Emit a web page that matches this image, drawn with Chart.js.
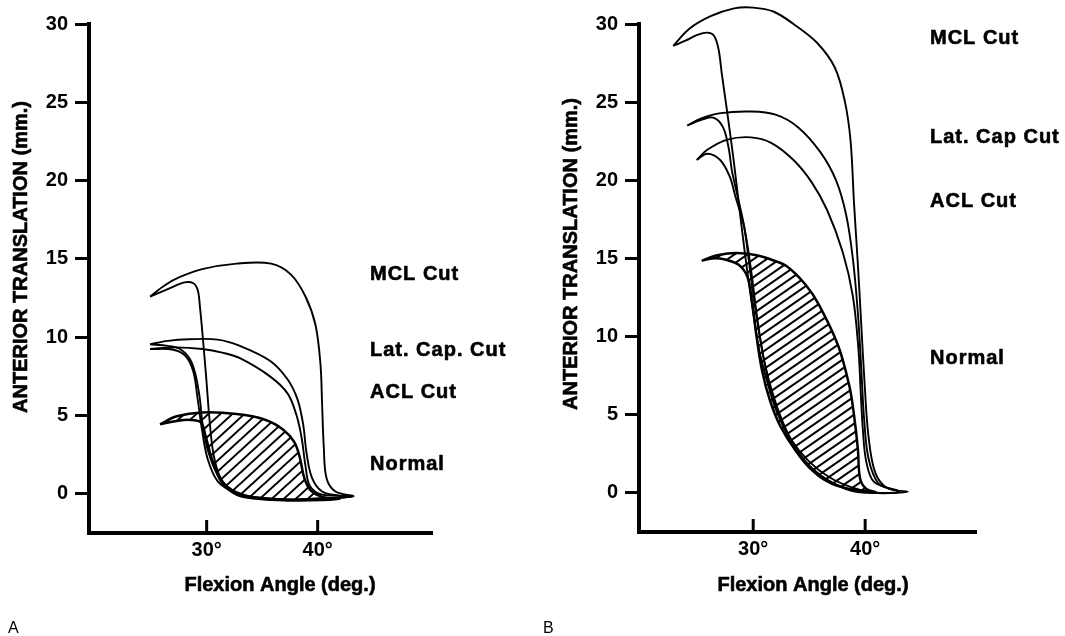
<!DOCTYPE html>
<html><head><meta charset="utf-8">
<script src="https://cdn.jsdelivr.net/npm/chart.js@4.4.1/dist/chart.umd.min.js"></script>
<style>
html,body{margin:0;padding:0;background:#fff;}
#wrap{position:relative;width:1065px;height:636px;overflow:hidden;background:#fff;}
canvas{position:absolute;top:0;}
</style></head><body>
<div id="wrap">
<canvas id="cA" width="530" height="636" style="left:0px"></canvas>
<canvas id="cB" width="535" height="636" style="left:530px"></canvas>
</div>
<script>
// ---- tick labels / categories ----
const yTickValues = [0, 5, 10, 15, 20, 25, 30];
const xTickValues = [30, 40];
const seriesNamesA = ['MCL Cut', 'Lat. Cap. Cut', 'ACL Cut', 'Normal'];
const seriesNamesB = ['MCL Cut', 'Lat. Cap Cut', 'ACL Cut', 'Normal'];
const xTitle = 'Flexion Angle (deg.)';
const yTitle = 'ANTERIOR TRANSLATION (mm.)';

// ---- Panel A loops (flexion angle deg, anterior translation mm) ----
const aMclX = [24.9, 26.3, 27.6, 29.6, 32.7, 35.8, 37.6, 38.9, 39.8, 40.25, 40.4, 40.55, 40.8, 41.6, 43.2, 40.4, 37.3, 34.2, 32.4, 31.2, 30.6, 30.25, 29.95, 29.65, 29.4, 29.2, 28.8, 28.0, 26.6, 24.9];
const aMclY = [12.6, 13.35, 13.85, 14.35, 14.7, 14.7, 14.0, 12.6, 10.8, 8.3, 5.7, 3.0, 1.0, 0.15, -0.15, -0.3, -0.4, -0.25, 0.1, 1.1, 2.6, 4.8, 7.5, 10.0, 11.9, 13.0, 13.45, 13.5, 13.1, 12.6];
const aLatX = [24.9, 26.5, 28.4, 31.0, 33.0, 35.7, 37.3, 38.2, 38.7, 39.0, 39.5, 40.4, 41.9, 43.2, 40.4, 37.3, 34.2, 32.3, 31.0, 30.1, 29.6, 29.4, 29.0, 28.5, 27.6, 26.5, 24.9];
const aLatY = [9.55, 9.77, 9.87, 9.85, 9.45, 8.5, 7.3, 6.0, 4.4, 2.6, 1.0, 0.15, -0.1, -0.15, -0.3, -0.35, -0.2, 0.25, 1.2, 2.8, 4.6, 6.0, 7.6, 8.6, 9.25, 9.45, 9.55];
const aAclX = [24.9, 27.2, 29.6, 31.5, 33.0, 35.7, 37.3, 38.1, 38.55, 38.9, 39.3, 40.4, 43.2, 40.4, 37.3, 34.2, 32.6, 31.0, 30.1, 29.6, 29.2, 28.8, 28.1, 27.0, 24.9];
const aAclY = [9.25, 9.35, 9.25, 9.0, 8.66, 7.5, 6.4, 5.0, 3.6, 1.8, 0.5, -0.05, -0.15, -0.3, -0.35, -0.2, 0.05, 0.8, 2.2, 4.0, 6.0, 7.8, 8.8, 9.2, 9.25];
const aNorX = [25.8, 27.3, 29.6, 32.7, 35.2, 36.9, 37.9, 38.4, 38.8, 39.4, 40.7, 42.0, 40.4, 37.3, 34.5, 32.7, 31.3, 30.4, 29.9, 29.5, 28.5, 27.3, 25.8];
const aNorY = [4.44, 4.95, 5.2, 5.1, 4.75, 4.1, 3.3, 2.3, 1.0, 0.2, -0.25, -0.3, -0.4, -0.42, -0.3, -0.05, 0.8, 2.4, 3.7, 4.55, 4.72, 4.65, 4.44];

// ---- Panel B loops ----
const bMclX = [22.85, 24.3, 26.2, 28.3, 30.0, 31.8, 33.6, 35.7, 37.3, 38.2, 38.7, 39.0, 39.35, 39.65, 39.95, 40.3, 40.9, 42.0, 43.8, 42.0, 40.5, 38.8, 36.8, 35.0, 33.3, 32.1, 31.3, 30.6, 30.2, 29.8, 29.3, 28.7, 28.25, 27.65, 27.2, 26.9, 26.5, 25.9, 25.0, 24.0, 22.85];
const bMclY = [28.6, 29.7, 30.5, 31.0, 31.05, 30.8, 30.0, 28.8, 27.2, 25.0, 22.5, 18.6, 14.6, 10.8, 7.0, 3.6, 1.3, 0.3, 0.08, 0.0, 0.05, 0.35, 1.0, 2.0, 3.5, 5.2, 7.0, 8.9, 10.6, 12.5, 15.1, 18.6, 21.3, 24.5, 26.8, 28.4, 29.25, 29.45, 29.3, 28.95, 28.6];
const bLatX = [24.1, 25.3, 27.1, 29.8, 32.0, 34.0, 36.0, 37.4, 38.3, 38.9, 39.35, 39.65, 39.9, 40.3, 41.2, 43.0, 40.5, 38.7, 36.9, 35.0, 33.3, 32.0, 31.1, 30.4, 29.8, 29.2, 28.6, 28.1, 27.8, 27.3, 26.5, 25.5, 24.1];
const bLatY = [23.5, 23.95, 24.3, 24.4, 24.2, 23.4, 21.8, 20.0, 17.8, 15.0, 11.5, 8.0, 4.8, 2.2, 0.6, 0.08, 0.0, 0.15, 0.7, 1.6, 3.3, 5.6, 8.0, 10.8, 13.8, 17.0, 19.0, 20.6, 22.1, 23.4, 24.0, 23.9, 23.5];
const bAclX = [24.95, 25.9, 27.7, 29.8, 31.6, 33.6, 35.2, 36.6, 38.0, 38.9, 39.4, 39.6, 39.8, 40.1, 40.8, 43.0, 40.5, 38.7, 36.6, 34.7, 33.1, 31.9, 31.0, 30.4, 29.8, 29.2, 28.4, 27.9, 27.05, 25.9, 24.95];
const bAclY = [21.3, 21.95, 22.6, 22.75, 22.4, 21.3, 19.9, 18.1, 15.4, 12.6, 9.2, 6.5, 4.0, 2.0, 0.7, 0.08, 0.0, 0.2, 0.85, 2.0, 3.8, 6.0, 8.4, 11.0, 14.3, 17.0, 19.0, 20.25, 21.3, 21.7, 21.3];
const bNorX = [25.4, 26.8, 28.5, 30.3, 31.7, 33.0, 34.7, 35.9, 37.6, 38.6, 39.0, 39.35, 39.55, 40.1, 40.9, 39.0, 37.0, 35.5, 33.8, 32.4, 31.5, 30.8, 30.3, 29.9, 29.5, 28.7, 27.4, 26.3, 25.4];
const bNorY = [14.85, 15.2, 15.35, 15.2, 14.9, 14.5, 13.3, 12.0, 9.4, 6.8, 5.0, 2.8, 0.9, 0.25, 0.05, 0.2, 0.6, 1.3, 2.7, 4.3, 5.9, 7.8, 10.0, 12.2, 13.8, 14.6, 14.95, 15.0, 14.85];

// ---- helpers ----
const FONT = '"Liberation Sans", Arial, Helvetica, sans-serif';
const pts = (xs, ys) => xs.map((x, i) => ({ x: x, y: ys[i] }));

function makeHatch(w, h, lw) {
  const c = document.createElement('canvas');
  c.width = w; c.height = h;
  const g = c.getContext('2d');
  g.strokeStyle = '#000';
  g.lineWidth = lw;
  g.beginPath();
  for (const k of [-1, 0, 1]) {
    g.moveTo(-w, 2 * h + k * h);
    g.lineTo(2 * w, -h + k * h);
  }
  g.stroke();
  return g.createPattern(c, 'repeat');
}

function heavyText(ctx, s, x, y) {
  ctx.fillText(s, x, y);
  ctx.strokeText(s, x, y);
}

const textPlugin = {
  id: 'panelText',
  afterDraw(chart, args, o) {
    const ctx = chart.ctx;
    ctx.save();
    ctx.fillStyle = '#000';
    ctx.strokeStyle = '#000';
    ctx.lineWidth = 0.6;
    ctx.lineJoin = 'round';
    ctx.textBaseline = 'middle';
    // series labels
    ctx.font = 'bold 20px ' + FONT;
    ctx.textAlign = 'left';
    try { ctx.letterSpacing = '1px'; } catch (e) {}
    o.names.forEach((n, i) => heavyText(ctx, n, o.labelX, o.labelY[i]));
    try { ctx.letterSpacing = '0px'; } catch (e) {}
    // x title
    ctx.textAlign = 'center';
    heavyText(ctx, xTitle, o.xTitleX, o.xTitleY);
    // y title
    ctx.save();
    ctx.translate(o.yTitleX, o.yTitleY);
    ctx.rotate(-Math.PI / 2);
    heavyText(ctx, yTitle, 0, 0);
    ctx.restore();
    // panel letter
    ctx.font = '16px ' + FONT;
    ctx.textAlign = 'left';
    ctx.fillText(o.letter, o.letterX, o.letterY);
    // inward x ticks
    const xs = chart.scales.x;
    const b = chart.chartArea.bottom;
    ctx.lineWidth = 3;
    xTickValues.forEach(v => {
      const px = xs.getPixelForValue(v);
      ctx.beginPath();
      ctx.moveTo(px, b);
      ctx.lineTo(px, b - 13);
      ctx.stroke();
    });
    ctx.restore();
  }
};

function makeChart(id, cfg) {
  const series = cfg.series;
  return new Chart(document.getElementById(id), {
    type: 'scatter',
    data: {
      datasets: series.map(s => ({
        label: s.name,
        data: pts(s.x, s.y),
        showLine: true,
        clip: false,
        borderColor: '#000',
        borderWidth: s.normal ? 2.5 : 1.9,
        pointRadius: 0,
        pointHoverRadius: 0,
        tension: 0.35,
        fill: s.normal ? 'shape' : false,
        backgroundColor: s.normal ? cfg.hatch : 'rgba(0,0,0,0)'
      }))
    },
    options: {
      responsive: false,
      animation: false,
      events: [],
      layout: { padding: { left: 0, top: 24, right: cfg.padRight, bottom: 0 } },
      plugins: {
        legend: { display: false },
        tooltip: { enabled: false },
        panelText: cfg.text
      },
      scales: {
        x: {
          type: 'linear',
          min: cfg.xMin, max: cfg.xMax,
          afterFit: s => { s.height = cfg.xHeight; },
          afterBuildTicks: s => { s.ticks = xTickValues.map(v => ({ value: v })); },
          grid: { display: false, drawTicks: false },
          border: { display: true, color: '#000', width: 4 },
          ticks: {
            padding: 5, color: '#000', autoSkip: false, maxRotation: 0,
            font: { family: FONT, size: 20, weight: 'bold' },
            callback: v => v + '°'
          }
        },
        y: {
          type: 'linear',
          min: -2.5, max: 30,
          afterFit: s => { s.width = cfg.yWidth; },
          afterBuildTicks: s => { s.ticks = yTickValues.map(v => ({ value: v })); },
          grid: { display: true, drawOnChartArea: false, drawTicks: true, tickLength: 14, lineWidth: 3, color: '#000', tickColor: '#000' },
          border: { display: true, color: '#000', width: 4 },
          ticks: {
            padding: 7, color: '#000', autoSkip: false,
            font: { family: FONT, size: 20, weight: 'bold' },
            callback: v => String(v)
          }
        }
      }
    },
    plugins: [textPlugin]
  });
}

makeChart('cA', {
  xMin: 19.4, xMax: 50.3, padRight: 98, yWidth: 89, xHeight: 103,
  hatch: makeHatch(12, 11, 2.0),
  series: [
    { name: seriesNamesA[0], x: aMclX, y: aMclY },
    { name: seriesNamesA[1], x: aLatX, y: aLatY },
    { name: seriesNamesA[2], x: aAclX, y: aAclY },
    { name: seriesNamesA[3], x: aNorX, y: aNorY, normal: true }
  ],
  text: {
    names: seriesNamesA, labelX: 370, labelY: [274.5, 350.6, 392, 464.4],
    xTitleX: 280, xTitleY: 585, yTitleX: 21, yTitleY: 257,
    letter: 'A', letterX: 8, letterY: 629
  }
});

makeChart('cB', {
  xMin: 19.8, xMax: 49.9, padRight: 89, yWidth: 109, xHeight: 104,
  hatch: makeHatch(13, 9, 2.0),
  series: [
    { name: seriesNamesB[0], x: bMclX, y: bMclY },
    { name: seriesNamesB[1], x: bLatX, y: bLatY },
    { name: seriesNamesB[2], x: bAclX, y: bAclY },
    { name: seriesNamesB[3], x: bNorX, y: bNorY, normal: true }
  ],
  text: {
    names: seriesNamesB, labelX: 400, labelY: [38.5, 137.7, 201, 358],
    xTitleX: 283, xTitleY: 585, yTitleX: 41, yTitleY: 254,
    letter: 'B', letterX: 13, letterY: 629
  }
});
</script>
</body></html>
